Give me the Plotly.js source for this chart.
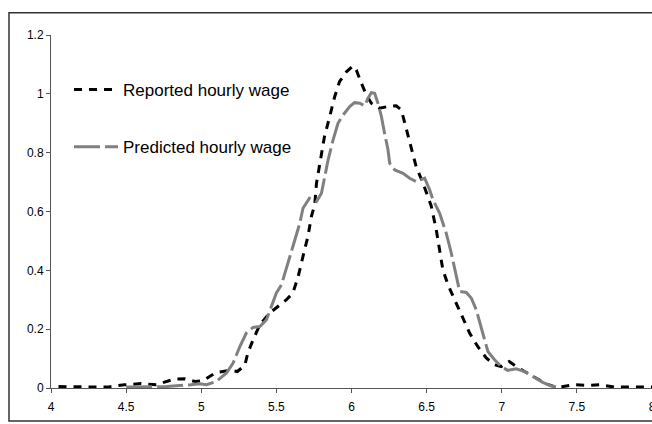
<!DOCTYPE html>
<html>
<head>
<meta charset="utf-8">
<script src="https://cdn.plot.ly/plotly-3.0.1.min.js"></script>
<style>html,body{margin:0;padding:0;background:#fff;}#chart{width:652px;height:424px;}</style>
</head>
<body>
<div id="chart"></div>
<script>
var reportedX = [4.05,4.20,4.37,4.49,4.60,4.70,4.82,4.89,4.96,5.01,5.10,5.20,5.24,5.29,5.31,5.345,5.39,5.456,5.523,5.567,5.61,5.645,5.677,5.71,5.733,5.755,5.767,5.793,5.82,5.855,5.888,5.92,5.966,6.01,6.032,6.066,6.099,6.132,6.187,6.243,6.298,6.332,6.365,6.40,6.43,6.476,6.51,6.53,6.564,6.587,6.608,6.642,6.686,6.73,6.786,6.84,6.897,6.952,6.997,7.05,7.096,7.152,7.23,7.296,7.362,7.40,7.476,7.587,7.656,7.75,8.0];
var reportedY = [0.005,0.003,0.003,0.011,0.015,0.011,0.030,0.031,0.022,0.025,0.053,0.060,0.056,0.077,0.119,0.164,0.215,0.255,0.283,0.300,0.323,0.379,0.447,0.515,0.583,0.623,0.696,0.775,0.855,0.923,0.990,1.041,1.075,1.095,1.081,1.036,0.996,0.968,0.951,0.957,0.959,0.945,0.877,0.810,0.753,0.696,0.651,0.620,0.538,0.470,0.402,0.351,0.300,0.249,0.187,0.141,0.102,0.079,0.073,0.090,0.073,0.056,0.034,0.014,0.003,0.004,0.011,0.009,0.011,0.003,0.003];
var predictedX = [4.50,4.77,4.93,4.99,5.035,5.10,5.168,5.212,5.257,5.30,5.345,5.39,5.434,5.467,5.50,5.534,5.578,5.622,5.656,5.677,5.72,5.767,5.80,5.82,5.844,5.877,5.91,5.944,5.988,6.02,6.055,6.088,6.11,6.132,6.154,6.176,6.199,6.22,6.243,6.254,6.288,6.343,6.387,6.43,6.487,6.52,6.542,6.587,6.63,6.664,6.697,6.72,6.764,6.797,6.83,6.864,6.886,6.908,6.952,6.997,7.04,7.096,7.152,7.207,7.273,7.34,7.373];
var predictedY = [0.003,0.005,0.011,0.014,0.011,0.022,0.051,0.085,0.141,0.187,0.206,0.209,0.232,0.277,0.323,0.351,0.425,0.504,0.560,0.611,0.645,0.634,0.662,0.713,0.775,0.843,0.900,0.928,0.957,0.970,0.968,0.959,0.985,1.004,1.002,0.968,0.923,0.866,0.810,0.764,0.741,0.730,0.713,0.702,0.713,0.674,0.640,0.594,0.527,0.459,0.379,0.328,0.325,0.306,0.266,0.209,0.164,0.124,0.096,0.073,0.060,0.065,0.056,0.039,0.019,0.005,0.002];
var xTicks = [4,4.5,5,5.5,6,6.5,7,7.5,8];
var yTicks = [0,0.2,0.4,0.6,0.8,1,1.2];
var seriesNames = ['Reported hourly wage','Predicted hourly wage'];

var traces = [
  {x: reportedX, y: reportedY, name: seriesNames[0], mode: 'lines', legendgroup: 'a',
   line: {color: '#000000', width: 3, dash: '8px,7px'}},
  {x: predictedX, y: predictedY, name: seriesNames[1], mode: 'lines', legendgroup: 'b',
   line: {color: '#808080', width: 3, dash: '26px,5px'}}
];

var layout = {
  width: 652, height: 424,
  margin: {l: 51, r: 0, t: 35, b: 36, pad: 0},
  paper_bgcolor: '#ffffff', plot_bgcolor: '#ffffff',
  font: {family: 'Liberation Sans, Arial, sans-serif', size: 12, color: '#000'},
  showlegend: true,
  legend: {x: 0.03, y: 0.895, xanchor: 'left', yanchor: 'top', bgcolor: 'rgba(0,0,0,0)',
           font: {size: 17, color: '#000'}, traceorder: 'grouped', tracegroupgap: 32, itemwidth: 44},
  xaxis: {range: [4, 8], tickvals: xTicks, ticktext: xTicks.map(String), showgrid: false, zeroline: false,
          showline: true, linecolor: '#555', linewidth: 1, ticks: 'outside', ticklen: 4, tickcolor: '#555',
          ticklabelstandoff: 4, ticklabeloverflow: 'allow', automargin: false, fixedrange: true},
  yaxis: {range: [0, 1.2], tickvals: yTicks, ticktext: yTicks.map(String), showgrid: false, zeroline: false,
          showline: true, linecolor: '#555', linewidth: 1, ticks: 'outside', ticklen: 4, tickcolor: '#555',
          automargin: false, fixedrange: true},
  shapes: [{type: 'rect', xref: 'paper', yref: 'paper', x0: -0.0699, x1: 1.2, y0: -0.0935, y1: 1.063,
            line: {color: '#333', width: 1.5}, fillcolor: 'rgba(0,0,0,0)', layer: 'below'}]
};
Plotly.newPlot('chart', traces, layout, {staticPlot: true, displayModeBar: false});
</script>
</body>
</html>
